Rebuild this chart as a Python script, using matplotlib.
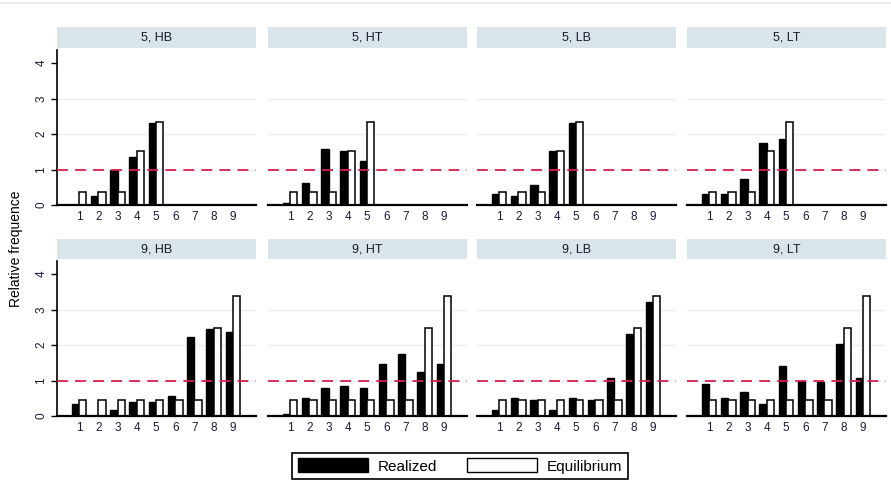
import numpy as np
import matplotlib
matplotlib.use("Agg")
import matplotlib.pyplot as plt
from matplotlib.patches import Patch
from matplotlib.lines import Line2D

plt.rcParams['font.family'] = ['Liberation Sans', 'DejaVu Sans']

panel_titles = ['5, HB', '5, HT', '5, LB', '5, LT',
                '9, HB', '9, HT', '9, LB', '9, LT']

equil_5 = [0.36, 0.36, 0.36, 1.52, 2.35]
equil_9 = [0.44, 0.44, 0.44, 0.44, 0.44, 0.44, 0.44, 2.47, 3.37]

realized = {
    '5, HB': [0.0, 0.24, 1.0, 1.35, 2.30],
    '5, HT': [0.05, 0.61, 1.58, 1.52, 1.24],
    '5, LB': [0.31, 0.24, 0.55, 1.52, 2.30],
    '5, LT': [0.31, 0.31, 0.73, 1.75, 1.86],
    '9, HB': [0.34, 0.0, 0.17, 0.39, 0.39, 0.57, 2.24, 2.46, 2.36],
    '9, HT': [0.05, 0.51, 0.79, 0.85, 0.79, 1.47, 1.75, 1.24, 1.47],
    '9, LB': [0.17, 0.51, 0.45, 0.17, 0.51, 0.45, 1.07, 2.31, 3.21],
    '9, LT': [0.91, 0.51, 0.68, 0.35, 1.41, 1.0, 0.96, 2.03, 1.07],
}

x_ticks = list(range(1, 10))
y_ticks = [0, 1, 2, 3, 4]

W, H = 891, 483
fig = plt.figure(figsize=(W / 100, H / 100), dpi=100)

# faint rule at the very top
fig.add_artist(Line2D([0, 1], [1 - 3 / H, 1 - 3 / H], color='#e4e6e8', lw=1.2))

lefts = [57, 268, 477, 687]
pw = 199
rows = [(205, 50, 27, 48), (416, 261, 239, 259)]  # baseline, top, strip top, strip bottom
bw = 0.38
strip_col = '#d9e4eb'
grid_col = '#e9f0f4'
red = '#d4204c'

for i, title in enumerate(panel_titles):
    r, c = divmod(i, 4)
    base, top, s_top, s_bot = rows[r]
    ax = fig.add_axes([lefts[c] / W, 1 - base / H, pw / W, (base - top) / H])
    sax = fig.add_axes([lefts[c] / W, 1 - s_bot / H, pw / W, (s_bot - s_top) / H])
    sax.set_facecolor(strip_col)
    sax.set_xticks([])
    sax.set_yticks([])
    for s in sax.spines.values():
        s.set_visible(False)
    sax.text(0.5, 0.5, title, ha='center', va='center', fontsize=9,
             color='#1a1a2a', transform=sax.transAxes)

    real = np.array(realized[title])
    eq = np.array(equil_5 if title.startswith('5') else equil_9)
    x = np.arange(1, len(real) + 1)

    for g in [1, 2, 3]:
        ax.axhline(g, color=grid_col, lw=1, zorder=0)
    ax.bar(x - bw / 2, real, bw, color='black', edgecolor='black', lw=1, zorder=2)
    ax.bar(x + bw / 2, eq, bw, color='white', edgecolor='black', lw=1.1, zorder=2)
    ax.axhline(1, color=red, lw=1.3, dashes=(6, 4), zorder=3)

    ax.set_xlim(-0.15, 10.2)
    ax.set_ylim(0, 4.37)
    ax.set_xticks(x_ticks)
    ax.set_xticklabels([str(t) for t in x_ticks], fontsize=8.5, color='#1a1a3a')
    ax.tick_params(axis='x', length=0, pad=4)
    ax.spines['top'].set_visible(False)
    ax.spines['right'].set_visible(False)
    ax.spines['bottom'].set_linewidth(1.6)
    ax.spines['bottom'].set_zorder(4)
    if c == 0:
        ax.set_yticks(y_ticks)
        ax.set_yticklabels([str(t) for t in y_ticks], fontsize=8.5,
                           rotation=90, va='center', color='#1a1a3a')
        ax.tick_params(axis='y', length=4, width=1, pad=3)
        ax.spines['left'].set_linewidth(1.2)
    else:
        ax.spines['left'].set_visible(False)
        ax.set_yticks([])

fig.text(16 / W, 1 - 249 / H, 'Relative frequence', rotation=90,
         ha='center', va='center', fontsize=10, color='black')

handles = [Patch(facecolor='black', edgecolor='black'),
           Patch(facecolor='white', edgecolor='black', lw=1)]
leg = fig.legend(handles, ['Realized', 'Equilibrium'], ncol=2,
                 loc='center', bbox_to_anchor=(460 / W, 1 - 466 / H),
                 fontsize=11, handlelength=4.6, handleheight=1.0,
                 columnspacing=2.0, handletextpad=0.6, borderpad=0.35,
                 fancybox=False, framealpha=1, edgecolor='black')
leg.get_frame().set_linewidth(1.2)

fig.savefig('out.png', dpi=100)
